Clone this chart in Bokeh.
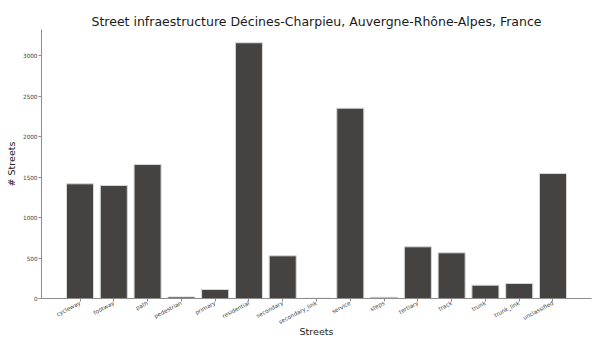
from bokeh.plotting import figure
from bokeh.models import FactorRange, Range1d, FixedTicker, ColumnDataSource
from bokeh.embed import file_html
from bokeh.resources import INLINE
import math

categories = ["cycleway", "footway", "path", "pedestrian", "primary", "residential",
              "secondary", "secondary_link", "service", "steps", "tertiary", "track",
              "trunk", "trunk_link", "unclassified"]
counts = [1416, 1395, 1654, 20, 111, 3157, 527, 5, 2349, 15, 638, 564, 164, 185, 1543]
y_ticks = [0, 500, 1000, 1500, 2000, 2500, 3000]

src = ColumnDataSource(data=dict(cat=categories, n=counts))

p = figure(
    x_range=FactorRange(factors=categories, range_padding=0.64, range_padding_units="absolute"),
    y_range=Range1d(0, 3321),
    frame_width=550, frame_height=269,
    output_backend="svg", toolbar_location=None,
    title="Street infraestructure Décines-Charpieu, Auvergne-Rhône-Alpes, France",
    min_border_left=41, min_border_right=1, min_border_top=29, min_border_bottom=40,
)

p.vbar(x="cat", top="n", width=0.8, source=src,
       fill_color="#454341", line_color="#d8d8d8", line_width=1)

p.title.align = "center"
p.title.text_font = "DejaVu Sans"
p.title.text_font_size = "12.5px"
p.title.text_font_style = "normal"
p.title.text_color = "#1a1a1a"
p.title.offset = 0
p.title.standoff = 2

p.xgrid.visible = False
p.ygrid.visible = False
p.outline_line_color = None
p.background_fill_color = "white"
p.border_fill_color = "white"

p.yaxis.ticker = FixedTicker(ticks=y_ticks)
p.yaxis.axis_label = "# Streets"
p.xaxis.axis_label = "Streets"
for ax in (p.xaxis[0], p.yaxis[0]):
    ax.axis_line_color = "#8c8c8c"
    ax.major_tick_line_color = "#8c8c8c"
    ax.major_tick_out = 3
    ax.major_tick_in = 0
    ax.minor_tick_line_color = None
    ax.major_label_text_font = "DejaVu Sans"
    ax.major_label_text_font_size = "5.7px"
    ax.major_label_text_color = "#444444"
    ax.axis_label_text_font = "DejaVu Sans"
    ax.axis_label_text_font_size = "9.5px"
    ax.axis_label_text_font_style = "normal"
    ax.axis_label_text_color = "#222222"
    ax.major_label_standoff = 1
    ax.axis_label_standoff = 1

p.xaxis.axis_label_standoff = -5
p.yaxis.axis_label_standoff = 3
p.xaxis.major_label_orientation = math.radians(28)

open("out.html", "w").write(file_html(p, INLINE))
